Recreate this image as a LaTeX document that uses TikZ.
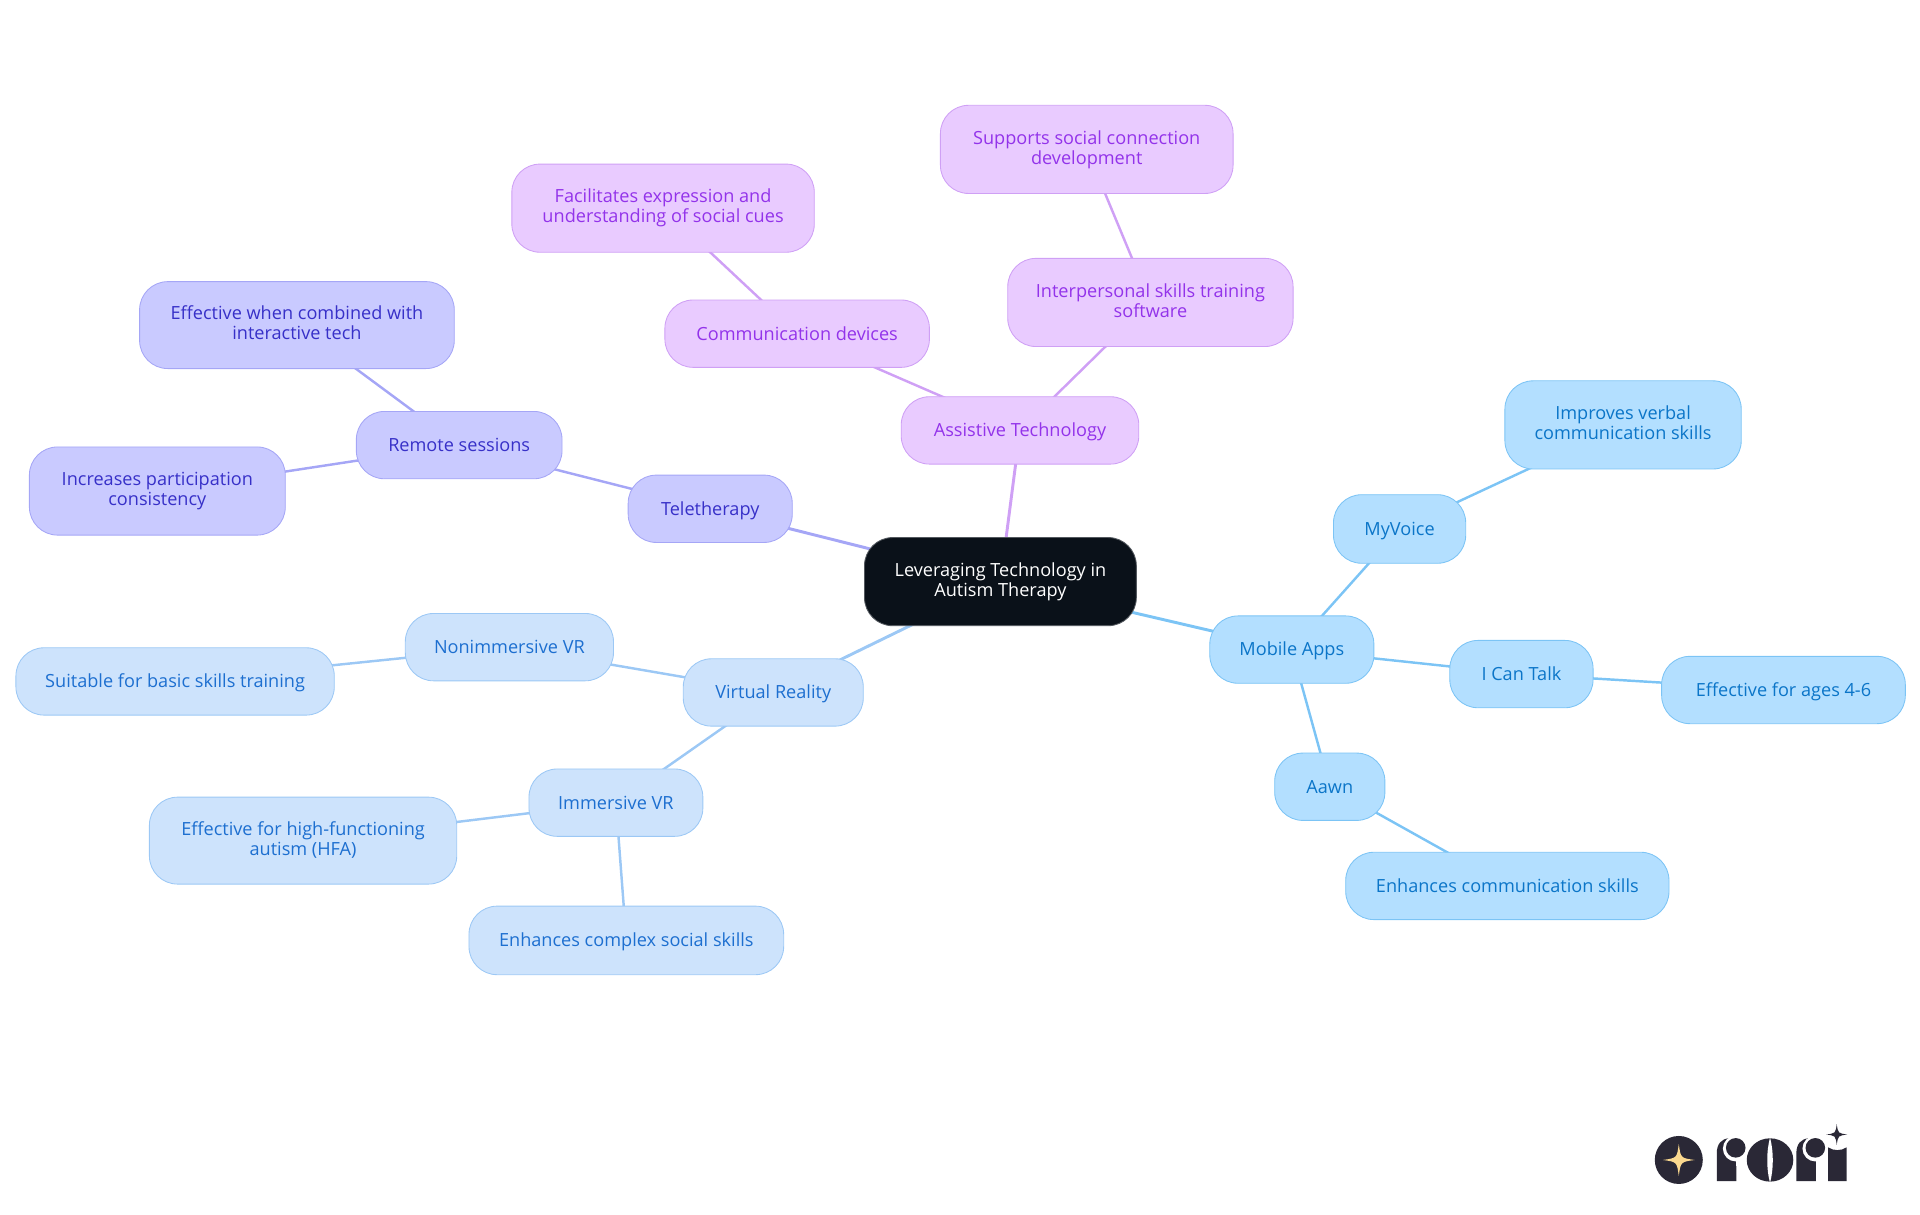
\documentclass[tikz,border=0pt]{standalone}
\usepackage{fontspec}
\usetikzlibrary{backgrounds}
\setmainfont{Open Sans}
\definecolor{pF}{HTML}{E9CBFF}\definecolor{pS}{HTML}{CFA0F5}\definecolor{pT}{HTML}{9333EA}
\definecolor{iF}{HTML}{C9CAFF}\definecolor{iS}{HTML}{A5A6F6}\definecolor{iT}{HTML}{3730C8}
\definecolor{bF}{HTML}{CDE3FC}\definecolor{bS}{HTML}{9CC8F5}\definecolor{bT}{HTML}{1D6FD0}
\definecolor{sF}{HTML}{B3DFFF}\definecolor{sS}{HTML}{7CC4F5}\definecolor{sT}{HTML}{0B75C8}
\definecolor{root}{HTML}{0A1119}\definecolor{logo}{HTML}{2A2836}\definecolor{star}{HTML}{FBD98F}
\newcommand{\mmtop}{\rule{0pt}{14pt}}
\newcommand{\mmbot}{\rule[-3.6pt]{0pt}{3.6pt}}
\tikzset{
  mm/.style={rectangle,rounded corners=23pt,align=center,font=\fontsize{14.8}{16.3}\selectfont,line width=0.7pt,inner sep=0pt,execute at begin node=\mmtop,execute at end node=\mmbot},
  purplenode/.style={mm,fill=pF,draw=pS,text=pT},
  indigonode/.style={mm,fill=iF,draw=iS,text=iT},
  bluenode/.style={mm,fill=bF,draw=bS,text=bT},
  skynode/.style={mm,fill=sF,draw=sS,text=sT},
  rootnode/.style={mm,fill=root,draw=root!70!white,text=white},
  pedge/.style={draw=pS,line width=2pt},
  iedge/.style={draw=iS,line width=2pt},
  bedge/.style={draw=bS,line width=2pt},
  sedge/.style={draw=sS,line width=2pt},
  firstlevel/.style={line width=2.4pt},
  logofill/.style={fill=logo,draw=none}
}
\newcommand{\mmnode}[7]{\node[#2,minimum width=#4pt-#3pt,minimum height=#6pt-#5pt] (#1) at ({(#3+#4)/2},{(#5+#6)/2}) {#7};}
\newcommand{\fourstar}[4]{\fill[#4] (#1,#2-#3) .. controls (#1+0.12*#3,#2-0.12*#3) .. (#1+#3,#2) .. controls (#1+0.12*#3,#2+0.12*#3) .. (#1,#2+#3) .. controls (#1-0.12*#3,#2+0.12*#3) .. (#1-#3,#2) .. controls (#1-0.12*#3,#2-0.12*#3) .. cycle;}
% logo letter r: #1 = left edge of stem
\newcommand{\logor}[1]{%
  \fill[logofill] (#1,964.5) -- (#1,942) .. controls (#1,934) and (#1+4,930) .. (#1+10,929.6) -- (#1+16,929.6) -- (#1+16,964.5) -- cycle;
  \fill[white] (#1+15.5,938) circle (10.5);
  \fill[white] (#1+16,938) rectangle (#1+26,952);
  \fill[logofill] (#1+15.5,937.4) circle (8);
}
\begin{document}
\begin{tikzpicture}[x=1pt,y=-1pt]
\useasboundingbox (0,0) rectangle (1568,992.25);
\mmnode{center}{rootnode}{706}{928}{439}{511}{Leveraging Technology in\\Autism Therapy}
\mmnode{assist}{purplenode}{736}{930}{324}{379}{Assistive Technology}
\mmnode{comm}{purplenode}{543}{759}{245}{300}{Communication devices}
\mmnode{inter}{purplenode}{823}{1056}{211}{283}{Interpersonal skills training\\software}
\mmnode{facil}{purplenode}{418}{665}{134}{206}{Facilitates expression and\\understanding of social cues}
\mmnode{supp}{purplenode}{768}{1007}{86}{158}{Supports social connection\\development}
\mmnode{tele}{indigonode}{513}{647}{388}{443}{Teletherapy}
\mmnode{remote}{indigonode}{291}{459}{336}{391}{Remote sessions}
\mmnode{effw}{indigonode}{114}{371}{230}{301}{Effective when combined with\\interactive tech}
\mmnode{incr}{indigonode}{24}{233}{365}{437}{Increases participation\\consistency}
\mmnode{vr}{bluenode}{558}{705}{538}{593}{Virtual Reality}
\mmnode{nonimm}{bluenode}{331}{501}{501}{556}{Nonimmersive VR}
\mmnode{suit}{bluenode}{13}{273}{529}{584}{Suitable for basic skills training}
\mmnode{imm}{bluenode}{432}{574}{628}{683}{Immersive VR}
\mmnode{hfa}{bluenode}{122}{373}{651}{722}{Effective for high-functioning\\autism (HFA)}
\mmnode{cplx}{bluenode}{383}{640}{740}{796}{Enhances complex social skills}
\mmnode{mobile}{skynode}{988}{1122}{503}{558}{Mobile Apps}
\mmnode{myv}{skynode}{1089}{1197}{404}{460}{MyVoice}
\mmnode{impr}{skynode}{1229}{1422}{311}{383}{Improves verbal\\communication skills}
\mmnode{ict}{skynode}{1184}{1301}{523}{578}{I Can Talk}
\mmnode{ages}{skynode}{1357}{1556}{536}{591}{Effective for ages 4-6}
\mmnode{aawn}{skynode}{1041}{1131}{615}{670}{Aawn}
\mmnode{ecomm}{skynode}{1099}{1363}{696}{751}{Enhances communication skills}
\begin{scope}[on background layer]
\draw[pedge,firstlevel] (center.center) -- (assist.center);
\draw[pedge] (assist.center) -- (comm.center);
\draw[pedge] (assist.center) -- (inter.center);
\draw[pedge] (comm.center) -- (facil.center);
\draw[pedge] (inter.center) -- (supp.center);
\draw[iedge,firstlevel] (center.center) -- (tele.center);
\draw[iedge] (tele.center) -- (remote.center);
\draw[iedge] (remote.center) -- (effw.center);
\draw[iedge] (remote.center) -- (incr.center);
\draw[bedge,firstlevel] (center.center) -- (vr.center);
\draw[bedge] (vr.center) -- (nonimm.center);
\draw[bedge] (nonimm.center) -- (suit.center);
\draw[bedge] (vr.center) -- (imm.center);
\draw[bedge] (imm.center) -- (hfa.center);
\draw[bedge] (imm.center) -- (cplx.center);
\draw[sedge,firstlevel] (center.center) -- (mobile.center);
\draw[sedge] (mobile.center) -- (myv.center);
\draw[sedge] (myv.center) -- (impr.center);
\draw[sedge] (mobile.center) -- (ict.center);
\draw[sedge] (ict.center) -- (ages.center);
\draw[sedge] (mobile.center) -- (aawn.center);
\draw[sedge] (aawn.center) -- (ecomm.center);
\end{scope}
% logo
\fill[logo] (1371,947.3) circle (19.6);
\fourstar{1371}{947.3}{13}{star}
\logor{1402}
\fill[logofill] (1445.5,947.3) ellipse (19 and 17.7);
\fill[white] (1445.5,929) .. controls (1442.5,940) and (1442.5,955) .. (1445.5,966) .. controls (1448.5,955) and (1448.5,940) .. cycle;
\logor{1467}
\fill[logofill] (1493,964.5) -- (1493,937) .. controls (1497,940) and (1504,940) .. (1508,937) -- (1508,964.5) -- cycle;
\fourstar{1500}{926.5}{8.5}{logo}
\end{tikzpicture}
\end{document}
